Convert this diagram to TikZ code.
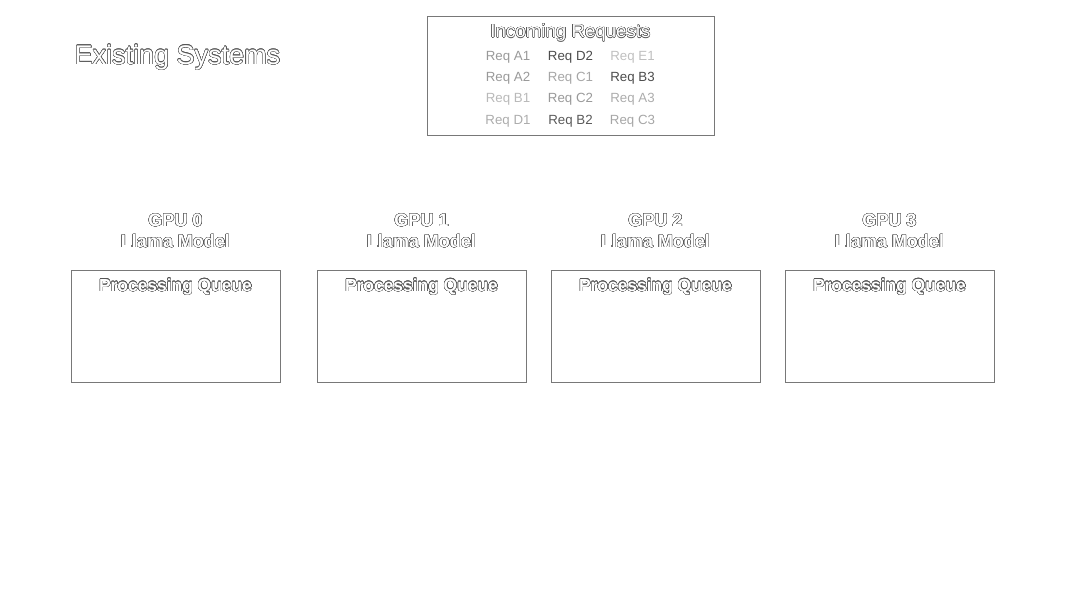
\documentclass[tikz,border=0pt]{standalone}
\usepackage{fontspec}
\setmainfont{Liberation Sans}
\usepackage[copies]{contour}
\usetikzlibrary{positioning}
\definecolor{edgeGray}{RGB}{120,120,120}
\definecolor{inkGray}{RGB}{85,85,85}
\contourlength{0.35pt}
\contournumber{24}
% outlined (white) text
\newcommand{\olt}[1]{\contour{inkGray}{#1}}

\begin{document}
\begin{tikzpicture}[x=1pt, y=-1pt,
    heading/.style={text=white, font=\fontsize{27}{32}\selectfont, inner sep=0pt},
    poolbox/.style={draw=edgeGray, line width=0.9pt, minimum width=287pt, minimum height=119pt, inner sep=0pt},
    pooltitle/.style={text=white, font=\fontsize{18.7}{22}\selectfont, inner sep=0pt},
    reqitem/.style={font=\fontsize{13.3}{16}\selectfont, inner sep=0pt},
    gpulabel/.style={text=white, font=\bfseries\fontsize{18}{22}\selectfont, align=center, inner sep=0pt},
    queuebox/.style={draw=edgeGray, line width=0.9pt, minimum width=209pt, minimum height=112pt, inner sep=0pt},
    queuetitle/.style={text=white, font=\bfseries\fontsize{17.4}{21}\selectfont, inner sep=0pt}]
  \useasboundingbox (0,0) rectangle (1080,608);

  % Title
  \node[heading] (systems) at (177.5,57.5) {\olt{Existing Systems}};

  % Incoming requests pool
  \node[poolbox] (pool) at (570.5,75.5) {};
  \node[pooltitle] (pooltitle) at (570.5,33) {\olt{Incoming Requests}};
  \foreach \r/\y/\a/\ca/\b/\cb/\c/\cc in {
      1/57/A1/gray!80/D2/black!70/E1/gray!50,
      2/78/A2/gray!80/C1/gray!70/B3/black!70,
      3/99/B1/gray!55/C2/gray!80/A3/gray!65,
      4/121/D1/gray!65/B2/black!65/C3/gray!70} {
    \node[reqitem, text=\ca] (req-\a) at (508,\y) {Req \a};
    \node[reqitem, text=\cb] (req-\b) at (570.5,\y) {Req \b};
    \node[reqitem, text=\cc] (req-\c) at (632.5,\y) {Req \c};
  }

  % GPUs and their queues
  \foreach \i/\x in {0/175.5,1/421.5,2/655.5,3/889.5} {
    \node[gpulabel] (gpu\i) at (\x,231) {\olt{GPU \i}\\[-1pt]\olt{Llama Model}};
    \node[queuebox] (queue\i) at (\x,326) {};
    \node[queuetitle] (qtitle\i) at (\x,287) {\olt{Processing Queue}};
  }
\end{tikzpicture}
\end{document}
